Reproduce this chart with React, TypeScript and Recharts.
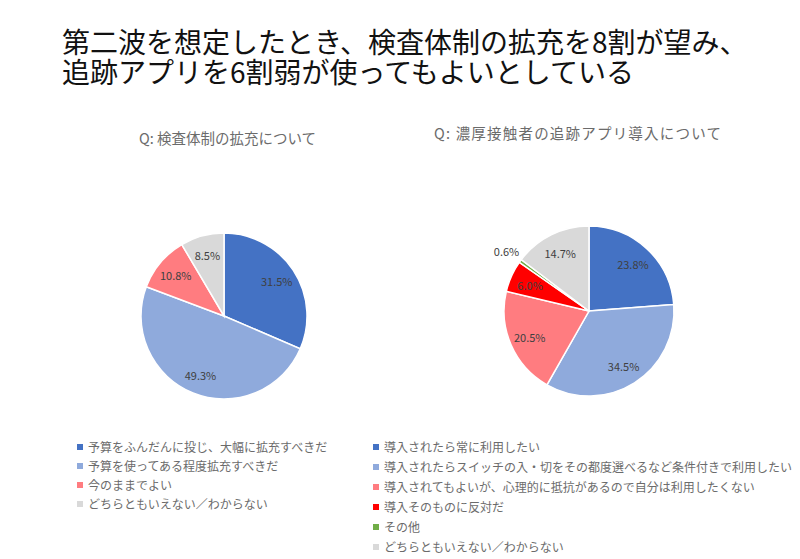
import { PieChart, Pie, Cell } from 'recharts'

const titleLines = ['第二波を想定したとき、検査体制の拡充を8割が望み、', '追跡アプリを6割弱が使ってもよいとしている']

const leftQuestion = 'Q: 検査体制の拡充について'
const leftNames = ['予算をふんだんに投じ、大幅に拡充すべきだ', '予算を使ってある程度拡充すべきだ', '今のままでよい', 'どちらともいえない／わからない']
const leftValues = [31.5, 49.3, 10.8, 8.5]
const leftColors = ['#4472C4', '#8FAADC', '#FF7C80', '#D9D9D9']

const rightQuestion = 'Q: 濃厚接触者の追跡アプリ導入について'
const rightNames = [
  '導入されたら常に利用したい',
  '導入されたらスイッチの入・切をその都度選べるなど条件付きで利用したい',
  '導入されてもよいが、心理的に抵抗があるので自分は利用したくない',
  '導入そのものに反対だ',
  'その他',
  'どちらともいえない／わからない',
]
const rightValues = [23.8, 34.5, 20.5, 6.0, 0.6, 14.7]
const rightColors = ['#4472C4', '#8FAADC', '#FF7C80', '#FF0000', '#70AD47', '#D9D9D9']

const leftData = leftNames.map((name, i) => ({ name, value: leftValues[i] }))
const rightData = rightNames.map((name, i) => ({ name, value: rightValues[i] }))

const FONT = '"Noto Sans CJK JP", "Noto Sans", sans-serif'
const RAD = Math.PI / 180

const renderLabel = (p: any) => {
  const { cx, cy, midAngle, outerRadius, value, percent } = p
  const k = percent < 0.02 ? 1.2 : 0.76
  const r = outerRadius * k
  const x = cx + r * Math.cos(-midAngle * RAD)
  const y = cy + r * Math.sin(-midAngle * RAD)
  return (
    <text x={x} y={y} fill="#404040" fontSize={11} fontFamily={FONT} textAnchor="middle" dominantBaseline="central">
      {value.toFixed(1)}%
    </text>
  )
}

function Legend({ names, colors, left, top, gap }: { names: string[]; colors: string[]; left: number; top: number; gap: number }) {
  return (
    <div style={{ position: 'absolute', left, top }}>
      {names.map((n, i) => (
        <div key={n} style={{ position: 'absolute', top: i * gap, left: 0, whiteSpace: 'nowrap', display: 'flex', alignItems: 'center', height: 16 }}>
          <span style={{ width: 6, height: 6, background: colors[i], display: 'inline-block', marginRight: 5 }} />
          <span style={{ fontSize: 12, color: '#6b6b6b', fontFamily: FONT, lineHeight: '16px' }}>{n}</span>
        </div>
      ))}
    </div>
  )
}

export default function App() {
  return (
    <div style={{ position: 'absolute', left: 0, top: 0, width: 800, height: 559, background: '#fff', fontFamily: FONT, overflow: 'hidden' }}>
      <div style={{ position: 'absolute', left: 62, top: 26, fontSize: 28, lineHeight: '30px', color: '#111', whiteSpace: 'pre' }}>
        {titleLines.join('\n')}
      </div>
      <div style={{ position: 'absolute', left: 139, top: 128, fontSize: 14.5, lineHeight: '20px', color: '#6b6b6b', whiteSpace: 'nowrap' }}>{leftQuestion}</div>
      <div style={{ position: 'absolute', left: 434, top: 123, fontSize: 14.5, lineHeight: '20px', color: '#6b6b6b', whiteSpace: 'nowrap', letterSpacing: 1.2 }}>{rightQuestion}</div>
      <div style={{ position: 'absolute', left: 0, top: 0 }}>
        <PieChart width={800} height={559} margin={{ top: 0, right: 0, bottom: 0, left: 0 }}>
          <Pie data={leftData} dataKey="value" cx={224} cy={316} outerRadius={83} startAngle={90} endAngle={-270}
            stroke="#fff" strokeWidth={1.5} label={renderLabel} labelLine={false} isAnimationActive={false}>
            {leftData.map((d, i) => <Cell key={d.name} fill={leftColors[i]} />)}
          </Pie>
          <Pie data={rightData} dataKey="value" cx={589} cy={311} outerRadius={85} startAngle={90} endAngle={-270}
            stroke="#fff" strokeWidth={1.5} label={renderLabel} labelLine={false} isAnimationActive={false}>
            {rightData.map((d, i) => <Cell key={d.name} fill={rightColors[i]} />)}
          </Pie>
        </PieChart>
      </div>
      <Legend names={leftNames} colors={leftColors} left={77} top={439} gap={19} />
      <Legend names={rightNames} colors={rightColors} left={373} top={439} gap={20} />
    </div>
  )
}
